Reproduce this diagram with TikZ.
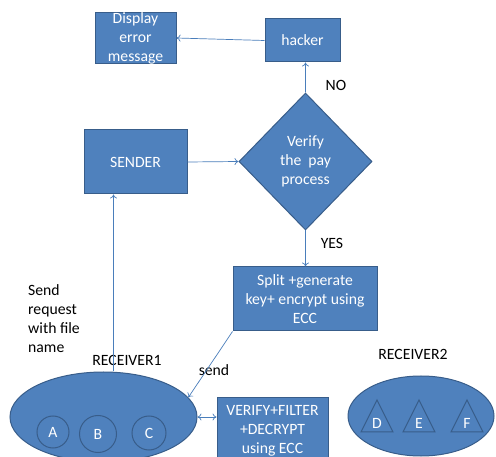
\documentclass[tikz,border=0pt]{standalone}
\usepackage{fontspec}
\setmainfont{Carlito}
\usetikzlibrary{shapes.geometric,arrows.meta}
\definecolor{boxfill}{HTML}{4F81BD}
\definecolor{boxline}{HTML}{385D8A}
\definecolor{arrcol}{HTML}{4A7EBB}
\begin{document}
\begin{tikzpicture}[x=1pt,y=-1pt,
  every node/.style={font=\fontsize{15.7}{19}\selectfont},
  box/.style={draw=boxline,line width=1pt,fill=boxfill,text=white,align=center,inner sep=0pt},
  blob/.style={ellipse,draw=boxline,line width=1pt,fill=boxfill,inner sep=0pt},
  circ/.style={circle,draw=boxline,line width=1pt,fill=boxfill,text=white,inner sep=0pt},
  tri/.style={draw=boxline,line width=1pt,fill=boxfill},
  lbl/.style={text=black,align=left,inner sep=0pt},
  arr/.style={draw=arrcol,line width=0.7pt,-{To[length=4pt,width=7pt]}},
  darr/.style={draw=arrcol,line width=0.7pt,{To[length=4pt,width=7pt]}-{To[length=4pt,width=7pt]}}]
\clip (0,0) rectangle (496,457);
\fill[white] (0,0) rectangle (496,457);
% boxes
\node[box,minimum width=81pt,minimum height=49pt] (disp) at (135.5,38) {Display\\error\\message};
\node[box,minimum width=75pt,minimum height=43pt] (hack) at (302.5,40.5) {hacker};
\node[box,minimum width=103pt,minimum height=64pt] (send) at (135.5,162) {SENDER};
\node[box,diamond,minimum width=133pt,minimum height=137pt] (dia) at (305.5,161.5) {Verify\\the~~pay\\process};
\node[box,minimum width=144pt,minimum height=64pt] (split) at (305,299) {Split +generate\\key+ encrypt using\\ECC};
\node[box,minimum width=111pt,minimum height=66pt] (ver) at (272.5,431) {VERIFY+FILTER\\+DECRYPT\\using ECC};
% receiver 1
\node[blob,minimum width=187pt,minimum height=90pt] (r1) at (103.5,417) {};
\node[circ,minimum size=32pt] (ca) at (53,432) {A};
\node[circ,minimum size=37pt] (cb) at (98,434) {B};
\node[circ,minimum size=34pt] (cc) at (149,433) {C};
% receiver 2
\node[blob,minimum width=146pt,minimum height=80pt] (r2) at (421,416) {};
\draw[tri] (377,400) -- (393,432) -- (361,432) -- cycle;
\draw[tri] (419,400) -- (435,432) -- (403,432) -- cycle;
\draw[tri] (467,400) -- (483,432) -- (451,432) -- cycle;
\node[text=white,inner sep=0pt] (ld) at (377,423) {D};
\node[text=white,inner sep=0pt] (le) at (419,423) {E};
\node[text=white,inner sep=0pt] (lf) at (467,423) {F};
% labels
\node[lbl] (no) at (336,85) {NO};
\node[lbl] (yes) at (332,243) {YES};
\node[lbl] (sendl) at (214,370) {send};
\node[lbl] (rc1) at (127,360) {RECEIVER1};
\node[lbl] (rc2) at (413,354) {RECEIVER2};
\node[lbl,anchor=west] (req) at (28,319) {Send\\request\\with file\\name};
% connectors
\draw[arr] (hack.west) -- (disp.east);
\draw[arr] (dia.north) -- (dia.north |- hack.south);
\draw[arr] (send.east) -- (dia.west);
\draw[arr] ([xshift=10pt]r1.north) -- ([xshift=10pt]r1.north |- send.south);
\draw[arr] (dia.south) -- (dia.south |- split.north);
\draw[arr] (split.south west) -- (r1.13);
\draw[darr] (r1.east) -- (r1.east -| ver.west);
\end{tikzpicture}
\end{document}
